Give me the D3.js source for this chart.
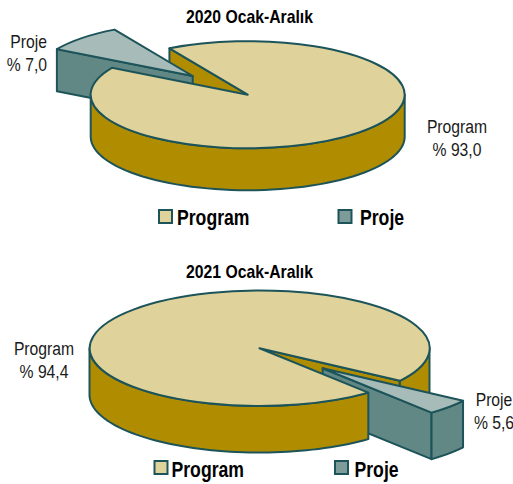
<!DOCTYPE html>
<html><head><meta charset="utf-8">
<script src="https://cdn.jsdelivr.net/npm/d3@7"></script>
<style>html,body{margin:0;padding:0;background:#fff}svg{display:block}
text{font-family:"Liberation Sans",Arial,sans-serif}</style>
</head><body><div id="c"></div>
<script>
const categories = ["Program", "Proje"];
const titles = ["2020 Ocak-Aralık", "2021 Ocak-Aralık"];
const values2020 = [93.0, 7.0];
const values2021 = [94.4, 5.6];
// the slices are not drawn to their printed value: these are the sweeps seen in the picture
const drawnShares2020 = [91.67, 8.33];
const drawnShares2021 = [95.6, 4.4];

const colors = {edge:"#1c5459", top:"#dfd39b", side:"#b08d00", wedgeTop:"#a7bbb9", wedgeSide:"#628886", legendProje:"#7d9b99", text:"#1a1a1a"};

const charts = [
 {title:titles[0], values:values2020, shares:drawnShares2020, start:-29.9,
  cx:247.7, cy:94.7, rx:157, ry:53.5, depth:42, off:[-55,-18.7], titleY:23,
  labels:[{x:457,y:133,anchor:"middle"},{x:47,y:48,anchor:"end"}],
  legend:[{bx:159,by:210,tx:177,ty:225},{bx:338.5,by:210,tx:360,ty:225}]},
 {title:titles[1], values:values2021, shares:drawnShares2021, start:140.2,
  cx:259.5, cy:348.3, rx:170, ry:57.7, depth:46.5, off:[63.2,20], titleY:278,
  labels:[{x:44,y:355,anchor:"middle"},{x:494,y:406,anchor:"middle"}],
  legend:[{bx:154.5,by:461,tx:171.5,ty:477},{bx:335,by:461,tx:354.5,ty:477}]}
];

const svg = d3.select("#c").append("svg").attr("width",513).attr("height",484);
const deg = Math.PI/180;
const fmt = v => "% " + v.toFixed(1).replace(".",",");
const line = d3.line();

charts.forEach(c=>{
  const g = svg.append("g");
  const pie = d3.pie().sort(null).value(d=>d).startAngle(c.start*deg).endAngle(c.start*deg+2*Math.PI);
  const [prog,proj] = pie(c.shares);
  const X = d3.scaleLinear().domain([-1,1]).range([c.cx-c.rx,c.cx+c.rx]);
  const Y = d3.scaleLinear().domain([-1,1]).range([c.cy-c.ry,c.cy+c.ry]);
  const pt = (a,dx=0,dy=0)=>[X(Math.sin(a))+dx,Y(-Math.cos(a))+dy];
  const shape = (pts,fill)=>g.append("path").attr("d",line(pts)+"Z").attr("fill",fill)
     .attr("stroke",colors.edge).attr("stroke-width",2).attr("stroke-linejoin","round");
  const radial = (a,fill,dx=0,dy=0)=>{
     const p=pt(a,dx,dy), o=[c.cx+dx,c.cy+dy];
     shape([o,p,[p[0],p[1]+c.depth],[o[0],o[1]+c.depth]],fill);
  };
  const rim = (a0,a1,fill,dx=0,dy=0)=>{
     const as=d3.range(0,61).map(i=>a0+(a1-a0)*i/60);
     shape([...as.map(a=>pt(a,dx,dy)),...as.slice().reverse().map(a=>{const p=pt(a,dx,dy);return [p[0],p[1]+c.depth]})],fill);
  };
  const top = (d,fill,dx=0,dy=0)=>{
     g.append("path").attr("transform",`translate(${c.cx+dx},${c.cy+dy}) scale(${c.rx},${c.ry})`)
      .attr("d",d3.arc().innerRadius(0).outerRadius(1)(d)).attr("fill",fill)
      .attr("stroke",colors.edge).attr("stroke-width",2).attr("vector-effect","non-scaling-stroke")
      .attr("stroke-linejoin","round");
  };
  // the reference face is condensed: squeeze the installed sans horizontally
  const label = (x,y,str,size,squeeze,bold,anchor,fill)=>
     g.append("text").attr("transform",`translate(${x},${y}) scale(${squeeze},1)`)
      .attr("text-anchor",anchor).attr("font-size",size).attr("font-weight",bold?"bold":"normal")
      .attr("fill",fill).text(str);

  // main body: faces inside the gap
  if(Math.sin(prog.startAngle)<0) radial(prog.startAngle,colors.side);
  if(Math.sin(prog.endAngle)>0) radial(prog.endAngle,colors.side);

  // front wall pieces of the main body
  const front=[-1,0,1].map(k=>({k,a0:Math.max(prog.startAngle,(90+360*k)*deg),a1:Math.min(prog.endAngle,(270+360*k)*deg)})).filter(s=>s.a1>s.a0);
  front.filter(s=>s.k>0).forEach(s=>rim(s.a0,s.a1,colors.side));

  // pulled-out slice
  const [dx,dy]=c.off;
  if(Math.sin(proj.endAngle)>0) radial(proj.endAngle,colors.wedgeSide,dx,dy);
  if(Math.sin(proj.startAngle)<0) radial(proj.startAngle,colors.wedgeSide,dx,dy);
  if(Math.cos(proj.startAngle)<0 && Math.cos(proj.endAngle)<0) rim(proj.startAngle,proj.endAngle,colors.wedgeSide,dx,dy);
  top(proj,colors.wedgeTop,dx,dy);

  front.filter(s=>s.k<=0).forEach(s=>rim(s.a0,s.a1,colors.side));
  top(prog,colors.top);

  // title
  label(249.5,c.titleY,c.title,18,0.875,true,"middle","#000");

  categories.forEach((name,i)=>{
    // value labels
    const l=c.labels[i];
    label(l.x,l.y,name,18.5,0.85,false,l.anchor,colors.text);
    label(l.x,l.y+22.5,fmt(c.values[i]),18.5,0.85,false,l.anchor,colors.text);
    // legend
    const k=c.legend[i];
    g.append("rect").attr("x",k.bx).attr("y",k.by).attr("width",13).attr("height",13)
      .attr("fill",i?colors.legendProje:colors.top).attr("stroke",colors.edge).attr("stroke-width",2);
    label(k.tx,k.ty,name,21.5,0.82,true,"start","#000");
  });
});
</script></body></html>
